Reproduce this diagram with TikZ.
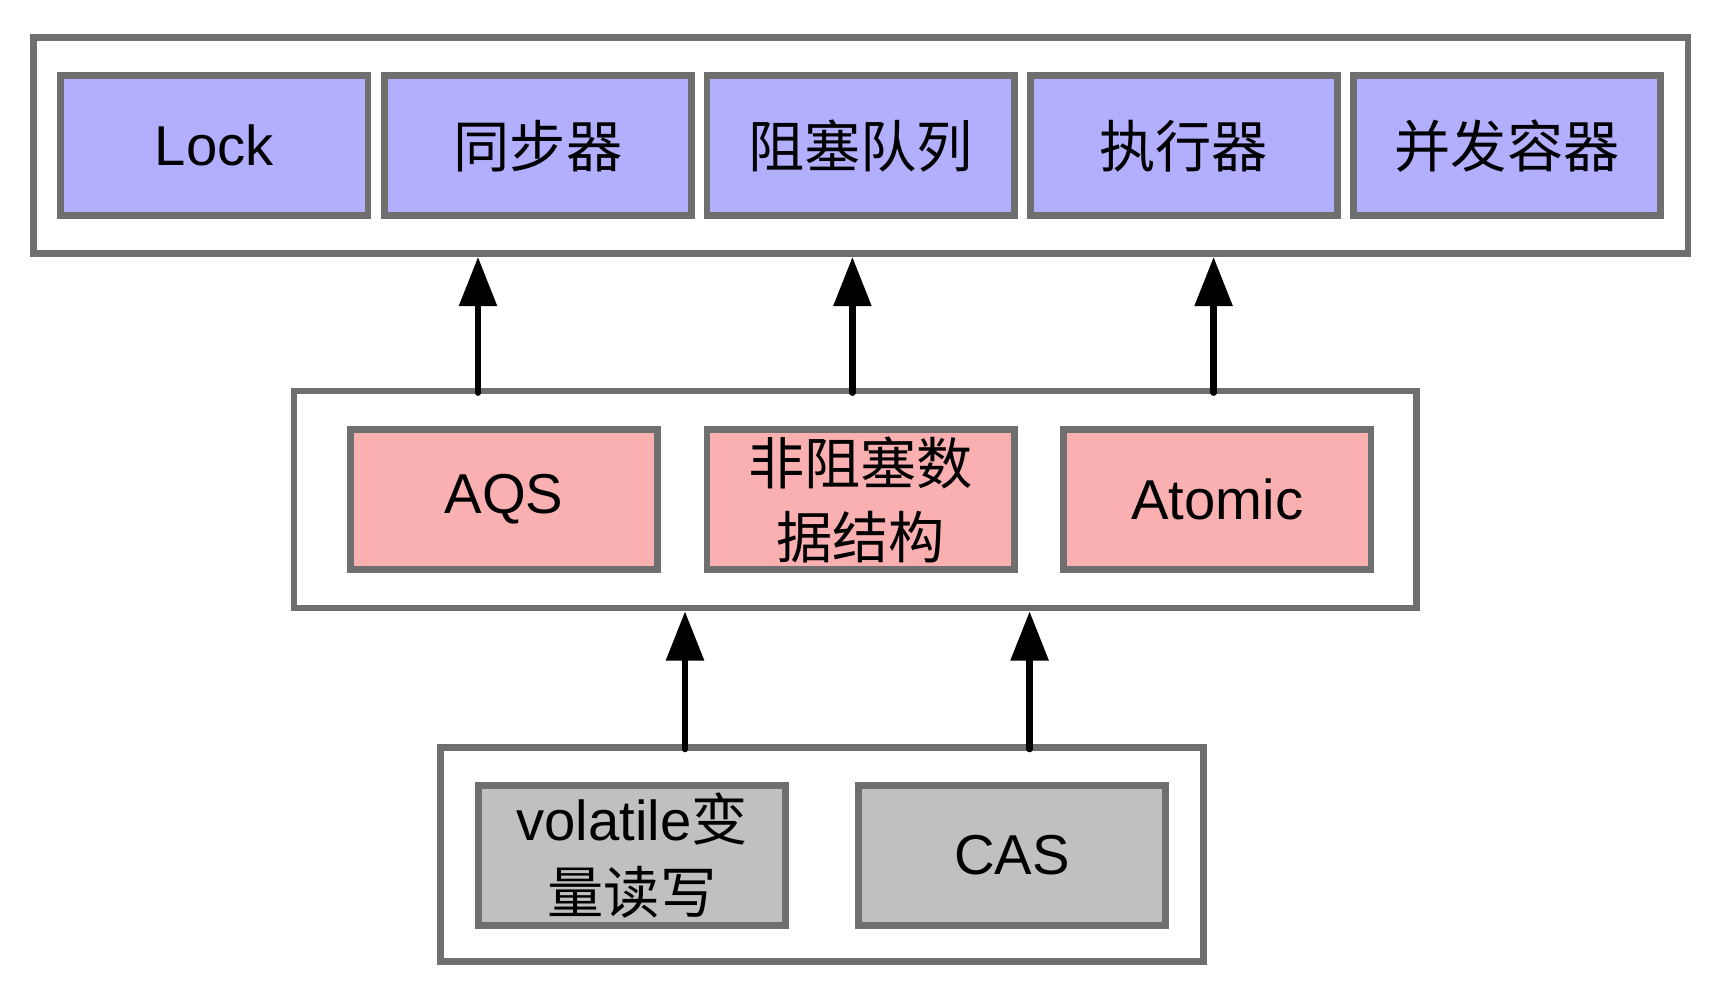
\documentclass[tikz,border=0pt]{standalone}
\usepackage{fontspec}
\setmainfont{Liberation Sans}
\newfontfamily\cjk{Noto Sans CJK SC}
\usetikzlibrary{arrows.meta}
\definecolor{edgegray}{HTML}{6F6F6F}
\definecolor{apiblue}{HTML}{B1AFFE}
\definecolor{basepink}{HTML}{FAB0B1}
\definecolor{rootgray}{HTML}{C0C0C0}

\begin{document}
\begin{tikzpicture}[y=-1cm,
	layer/.style={draw=edgegray, line width=1.9pt, fill=white, inner sep=0pt},
	part/.style={draw=edgegray, line width=1.9pt, minimum width=3.072cm, minimum height=1.40cm, inner sep=0pt, align=center, font=\fontsize{16}{21}\selectfont},
	up/.style={-{Triangle[length=14pt,width=10.5pt]}, line width=1.8pt, line cap=round, black}]
				\useasboundingbox (0,0) rectangle (17.22,10);
				\node [layer, minimum width=16.547cm, minimum height=2.16cm] (top) at (8.607,1.457) {};
				\node [layer, minimum width=11.221cm, minimum height=2.17cm] (mid) at (8.552,4.996) {};
				\node [layer, minimum width=7.63cm, minimum height=2.14cm] (low) at (8.22,8.545) {};
				\node [part, fill=apiblue] (lock) at (2.143,1.457) {Lock};
				\node [part, fill=apiblue] (sync) at (5.38,1.457) {\cjk 同步器};
				\node [part, fill=apiblue] (queue) at (8.607,1.457) {\cjk 阻塞队列};
				\node [part, fill=apiblue] (exec) at (11.838,1.457) {\cjk 执行器};
				\node [part, fill=apiblue] (coll) at (15.07,1.457) {\cjk 并发容器};
				\node [part, fill=basepink] (aqs) at (5.039,4.996) {AQS};
				\node [part, fill=basepink] (nbds) at (8.607,4.996) {\cjk 非阻塞数\\\cjk 据结构};
				\node [part, fill=basepink] (atomic) at (12.174,4.996) {Atomic};
				\node [part, fill=rootgray] (vol) at (6.321,8.556) {volatile{\cjk 变}\\\cjk 量读写};
				\node [part, fill=rootgray] (cas) at (10.12,8.556) {CAS};
				\draw [up] ([xshift=-3.772cm,yshift=-0.05cm]mid.north) -- ([xshift=-3.772cm]mid.north |- top.south);
				\draw [up] ([xshift=-0.028cm,yshift=-0.05cm]mid.north) -- ([xshift=-0.028cm]mid.north |- top.south);
				\draw [up] ([xshift=3.584cm,yshift=-0.05cm]mid.north) -- ([xshift=3.584cm]mid.north |- top.south);
				\draw [up] ([xshift=-1.37cm,yshift=-0.05cm]low.north) -- ([xshift=-1.37cm]low.north |- mid.south);
				\draw [up] ([xshift=2.076cm,yshift=-0.05cm]low.north) -- ([xshift=2.076cm]low.north |- mid.south);
\end{tikzpicture}
\end{document}
